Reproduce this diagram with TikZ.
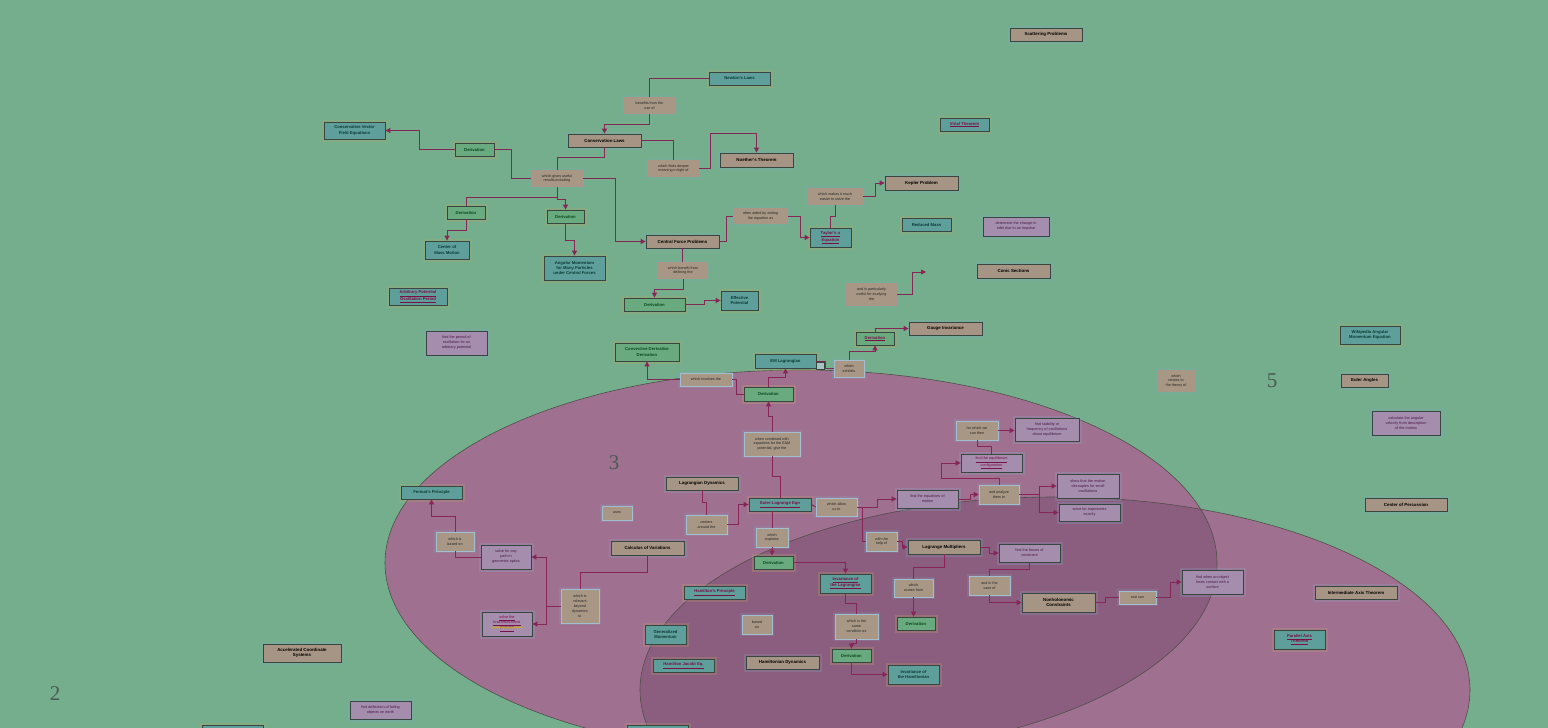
\documentclass[tikz,border=0pt]{standalone}
\usepackage{fontspec}
\setmainfont{Liberation Sans}
\newfontfamily\numfont{Liberation Serif}
\usetikzlibrary{arrows.meta,decorations.pathmorphing}
\definecolor{bgc}{HTML}{74AE8C}
\definecolor{pinkc}{HTML}{A07090}
\definecolor{overc}{HTML}{8B5E7F}
\definecolor{ellc}{HTML}{4E5048}
\definecolor{tanc}{HTML}{A69584}
\definecolor{tealc}{HTML}{5E9E9B}
\definecolor{greenc}{HTML}{6AAA7F}
\definecolor{purpc}{HTML}{A48DAD}
\definecolor{labc}{HTML}{A89784}
\definecolor{labb}{HTML}{A3BFCF}
\definecolor{bordc}{HTML}{37463F}
\definecolor{linec}{HTML}{862656}
\definecolor{linkc}{HTML}{7E0E48}
\definecolor{tealt}{HTML}{0C3C36}
\definecolor{greent}{HTML}{0B4A22}
\definecolor{purpt}{HTML}{4C1C48}
\definecolor{glowb}{HTML}{86A9C6}
\definecolor{glowy}{HTML}{B9A36A}
\definecolor{numc}{HTML}{4B5A52}
\definecolor{smallc}{HTML}{A9C2C4}
\definecolor{squig}{HTML}{C8B020}
\newcommand\lnk[1]{\textcolor{linkc}{\underline{#1}}}
\newcommand\bxn[6]{\node[#1,minimum width=#4pt,minimum height=#5pt] (#2) at (#3) {#6};}
\begin{document}
\begin{tikzpicture}[x=1pt,y=-1pt,
 every node/.style={inner sep=0pt, align=center},
 boxb/.style={rectangle, draw=bordc, line width=0.8pt},
 concept/.style={boxb, fill=tanc, text=black, font=\fontsize{4.4}{5.4}\selectfont\bfseries, preaction={draw=glowb, line width=5pt, draw opacity=0.22}},
 tealbox/.style={boxb, fill=tealc, text=tealt, font=\fontsize{4.2}{5.4}\selectfont\bfseries, preaction={draw=glowy, line width=5pt, draw opacity=0.25}},
 derivbox/.style={boxb, fill=greenc, text=greent, font=\fontsize{4.2}{5.4}\selectfont\bfseries, preaction={draw=glowy, line width=5pt, draw opacity=0.3}},
 taskbox/.style={boxb, fill=purpc, text=purpt, font=\fontsize{3.8}{5}\selectfont, preaction={draw=glowb, line width=5pt, draw opacity=0.25}},
 lab/.style={rectangle, fill=labc, text=black!85, font=\fontsize{3.7}{4.9}\selectfont, preaction={draw=glowb, line width=4pt, draw opacity=0.2}},
 labin/.style={lab, draw=labb, line width=0.6pt},
 numlab/.style={font=\numfont\fontsize{21}{21}\selectfont, text=numc},
 conn/.style={draw=linec, line width=0.9pt},
 arr/.style={conn, -{Triangle[length=5pt,width=5pt]}},
]
\useasboundingbox (0,0) rectangle (1548,728);
\fill[bgc] (0,0) rectangle (1548,728);
% regions
\fill[pinkc] (801,563) ellipse [x radius=416pt, y radius=193pt];
\fill[pinkc] (1055,690) ellipse [x radius=415pt, y radius=193pt];
\begin{scope}
\clip (801,563) ellipse [x radius=416pt, y radius=193pt];
\fill[overc] (1055,690) ellipse [x radius=415pt, y radius=193pt];
\end{scope}
\draw[ellc, line width=0.6pt] (801,563) ellipse [x radius=416pt, y radius=193pt];
\draw[ellc, line width=0.6pt] (1055,690) ellipse [x radius=415pt, y radius=193pt];
\node[numlab] (num2) at (55,694) {2};
\node[numlab] (num3) at (614,463) {3};
\node[numlab] (num5) at (1272,381) {5};
% nodes
\bxn{concept}{nScat}{1046,34.5}{72}{13}{Scattering Problems}
\bxn{tealbox}{nVirial}{964.5,124.5}{49}{13}{\lnk{Virial Theorem}}
\bxn{tealbox}{nNewton}{739.5,78.5}{61}{13}{Newton's Laws}
\bxn{lab}{lBenefits}{649.5,105.5}{51}{17}{benefits from the\\use of}
\bxn{concept}{nCons}{604.5,140.5}{73}{13}{Conservation Laws}
\bxn{lab}{lDeeper}{673.5,168.5}{51}{17}{which finds deeper\\meaning in light of}
\bxn{concept}{nNoether}{756.5,160}{73}{14}{Noether's Theorem}
\bxn{tealbox}{nCvf}{354.5,130.5}{61}{17}{Conservative Vector\\Field Equations}
\bxn{derivbox}{dA}{474.5,149.5}{39}{13}{Derivation}
\bxn{lab}{lGives}{557,178.5}{52}{17}{which gives useful\\results including}
\bxn{derivbox}{dB}{466,212.5}{38}{13}{Derivation}
\bxn{derivbox}{dC}{565.5,216.5}{37}{13}{Derivation}
\bxn{tealbox}{nCom}{447,250}{44}{18}{Center of\\Mass Motion}
\bxn{tealbox}{nAngmom}{574.5,268}{61}{24}{Angular Momentum\\for Many Particles\\under Central Forces}
\bxn{tealbox}{nArbpot}{418,296.5}{58}{17}{\lnk{Arbitrary Potential}\\\lnk{Oscillation Period}}
\bxn{concept}{nCfp}{682.5,241.5}{73}{13}{Central Force Problems}
\bxn{lab}{lAided}{760.5,216}{55}{16}{often aided by writing\\the equation as}
\bxn{tealbox}{nTaylor}{830.5,237.5}{41}{19}{\lnk{Taylor's u}\\\lnk{Equation}}
\bxn{lab}{lEasier}{835,196.5}{56}{17}{which makes it much\\easier to solve the}
\bxn{concept}{nKepler}{921.5,183}{73}{14}{Kepler Problem}
\bxn{tealbox}{nReduced}{926.5,224.5}{49}{13}{Reduced Mass}
\bxn{taskbox}{tImpulse}{1016,226.5}{66}{19}{determine the change in\\orbit due to an impulse}
\bxn{lab}{lBenefitB}{683,270.5}{50}{17}{which benefit from\\defining the}
\bxn{derivbox}{dD}{654.5,304.5}{61}{13}{Derivation}
\bxn{tealbox}{nEffpot}{739.5,300.5}{37}{19}{Effective\\Potential}
\bxn{lab}{lUseful}{871.5,294.5}{51}{23}{and is particularly\\useful for studying\\the}
\coordinate (cEnd) at (926,272);
\bxn{concept}{nConic}{1013.5,271}{73}{14}{Conic Sections}
\bxn{concept}{nGauge}{945.5,328.5}{73}{13}{Gauge Invariance}
\bxn{derivbox}{dE}{875,338.5}{38}{13}{\lnk{Derivation}}
\bxn{taskbox}{tPeriod}{456.5,343}{61}{24}{find the period of\\oscillation for an\\arbitrary potential}
\bxn{derivbox}{dConv}{647,352}{64}{18}{Convective Derivative\\Derivation}
\bxn{tealbox}{nEm}{785.5,361}{61}{14}{EM Lagrangian}
\node[rectangle, draw=bordc, line width=0.5pt, fill=smallc, minimum width=8pt, minimum height=7pt] (sBox) at (820,365.5) {};
\bxn{labin}{lExhibits}{849,368.5}{30}{17}{which\\exhibits}
\bxn{labin}{lInvolves}{706,379.5}{52}{13}{which involves the}
\bxn{derivbox}{dF}{768.5,394}{49}{14}{Derivation}
\bxn{labin}{lCombined}{772,444}{56}{24}{when combined with\\equations for the E\&M\\potential, give the}
\bxn{tealbox}{nWiki}{1370,335}{60}{18}{Wikipedia Angular\\Momentum Equation}
\bxn{lab}{lRelates}{1176,381}{38}{22}{which\\relates to\\the theory of}
\bxn{concept}{nEuler}{1364.5,380.5}{47}{13}{Euler Angles}
\bxn{taskbox}{tAngvel}{1406,423}{68}{24}{calculate the angular\\velocity from description\\of the motion}
\bxn{concept}{nPercussion}{1406,504.5}{82}{13}{Center of Percussion}
\bxn{concept}{nIntaxis}{1356,592.5}{82}{13}{Intermediate Axis Theorem}
\bxn{tealbox}{nParallel}{1299.5,639.5}{51}{19}{\lnk{Parallel Axis}\\\lnk{Theorem}}
\bxn{labin}{lWhichwe}{977,430.5}{42}{19}{for which we\\can then}
\bxn{taskbox}{tStability}{1047,429.5}{64}{23}{find stability or\\frequency of oscillations\\about equilibrium}
\bxn{taskbox}{tEquil}{991.5,463}{61}{18}{\lnk{find the equilibrium}\\\lnk{configuration}}
\bxn{taskbox}{tEom}{927.5,499}{61}{18}{find the equations of\\motion}
\bxn{labin}{lAnalyze}{999,494.5}{40}{19}{and analyze\\them to}
\bxn{taskbox}{tDecouple}{1088,486}{62}{24}{show that the motion\\decouples for small\\oscillations}
\bxn{taskbox}{tTraj}{1089.5,512.5}{61}{17}{solve for trajectories\\exactly}
\bxn{concept}{nLagdyn}{702,483.5}{72}{13}{Lagrangian Dynamics}
\bxn{tealbox}{nFermat}{431.5,492.5}{61}{13}{Fermat's Principle}
\bxn{labin}{lUses}{617,513}{30}{14}{uses}
\bxn{tealbox}{nEl}{780,504.5}{62}{13}{\lnk{Euler-Lagrange Eqn}}
\bxn{labin}{lAllow}{836.5,507}{41}{18}{which allow\\us to}
\bxn{labin}{lCenters}{706.5,524.5}{41}{19}{centers\\around the}
\bxn{labin}{lExplains}{772,537.5}{32}{19}{which\\explains}
\bxn{labin}{lBasedon}{455,541.5}{38}{19}{which is\\based on}
\bxn{taskbox}{tAnypath}{506,557}{50}{24}{solve for any\\path in\\geometric optics}
\bxn{concept}{nCalc}{647.5,548}{73}{14}{Calculus of Variations}
\bxn{labin}{lHelp}{881.5,541.5}{31}{19}{with the\\help of}
\bxn{concept}{nLagmult}{944,547}{72}{14}{Lagrange Multipliers}
\bxn{taskbox}{tForces}{1029.5,553}{61}{18}{find the forces of\\constraint}
\bxn{derivbox}{dG}{773.5,562.5}{39}{13}{Derivation}
\bxn{tealbox}{nInvlag}{845.5,583.5}{51}{19}{\lnk{Invariance of}\\\lnk{the Lagrangian}}
\bxn{labin}{lComes}{913.5,588}{39}{18}{which\\comes from}
\bxn{labin}{lCase}{989.5,585.5}{41}{19}{and in the\\case of}
\bxn{concept}{nNonhol}{1058.5,602.5}{73}{19}{Nonholonomic\\Constraints}
\bxn{labin}{lOnecan}{1137.5,597.5}{37}{13}{one can}
\bxn{taskbox}{tContact}{1212.5,582}{61}{24}{find when an object\\loses contact with a\\surface}
\bxn{tealbox}{nHampath}{714.5,592.5}{61}{13}{\lnk{Hamilton's Principle}}
\bxn{labin}{lRelevant}{580,606}{38}{34}{which is\\relevant\\beyond\\dynamics\\to}
\bxn{taskbox}{tBrach}{507,624}{50}{24}{\lnk{solve the}\\\lnk{brachistochrone}\\\lnk{problem}}
\bxn{derivbox}{dH}{916,623.5}{38}{13}{Derivation}
\bxn{labin}{lBasedB}{757,624.5}{30}{19}{based\\on}
\bxn{tealbox}{nGenmom}{665.5,634.5}{41}{19}{Generalized\\Momentum}
\bxn{labin}{lSame}{856.5,626.5}{43}{25}{which is the\\same\\condition as}
\bxn{derivbox}{dI}{851.5,655.5}{39}{13}{Derivation}
\bxn{tealbox}{nHj}{683.5,665.5}{61}{13}{\lnk{Hamilton Jacobi Eq.}}
\bxn{concept}{nHamdyn}{782.5,662.5}{73}{13}{Hamiltonian Dynamics}
\bxn{tealbox}{nInvham}{913.5,674.5}{51}{19}{Invariance of\\the Hamiltonian}
\bxn{concept}{nAccel}{302,653}{78}{18}{Accelerated Coordinate\\Systems}
\bxn{taskbox}{tDeflect}{380.5,710}{61}{18}{find deflection of falling\\objects on earth}
\node[tealbox, minimum width=61pt, minimum height=15pt] (pbA) at (232.5,732.5) {};
\node[tealbox, minimum width=61pt, minimum height=15pt] (pbB) at (657.5,732.5) {};
\draw[squig, line width=0.5pt, decorate, decoration={zigzag, amplitude=0.7pt, segment length=1.8pt}] ([xshift=-16pt,yshift=-3.5pt]tBrach.center) -- ([xshift=16pt,yshift=-3.5pt]tBrach.center);
% connectors
\draw[conn] (nNewton.west) -| (lBenefits.north);
\draw[arr] (lBenefits.south) -- ++(0,10) -| (nCons.north);
\draw[conn] (nCons.east) -| (lDeeper.north);
\draw[arr] (lDeeper.east) -- ++(11,0) -- ++(0,-35.5) -| (nNoether.north);
\draw[conn] (nCons.south) -- ++(0,10) -| (lGives.north);
\draw[conn] (lGives.west) -- ++(-19,0) |- (dA.east);
\draw[arr] (dA.west) -- ++(-35,0) |- (nCvf.east);
\draw[arr] (lGives.east) -- ++(32,0) |- (nCfp.west);
\draw[conn] (lGives.south) -- ++(0,10) -| (dB.north);
\draw[arr] (lGives.south) -- ++(0,12) -| (dC.north);
\draw[arr] (dB.south) -- ++(0,11) -| (nCom.north);
\draw[arr] (dC.south) -- ++(0,17) -| (nAngmom.north);
\draw[conn] (nCfp.east) -- ++(7,0) |- (lAided.west);
\draw[arr] (lAided.east) -- ++(12,0) |- (nTaylor.west);
\draw[conn] (nTaylor.north) -- ++(0,-11) -| (lEasier.south);
\draw[arr] (lEasier.east) -- ++(12,0) |- (nKepler.west);
\draw[conn] (nCfp.south) -- (nCfp.south |- lBenefitB.north);
\draw[arr] (lBenefitB.south) -- ++(0,10) -| (dD.north);
\draw[arr] (dD.east) -- ++(19,0) |- (nEffpot.west);
\draw[arr] (lUseful.east) -- ++(15,0) |- (cEnd);
\draw[conn] (nEm.east) -- ++(9,0) |- (lExhibits.west);
\draw[arr] (lExhibits.north) -- ++(0,-8) -| (dE.south);
\draw[arr] (dE.north) |- (nGauge.west);
\draw[conn] (dF.west) -- ++(-7,0) |- (lInvolves.east);
\draw[arr] (lInvolves.west) -| (dConv.south);
\draw[arr] (dF.north) -- ++(0,-9) -| (nEm.south);
\draw[arr] (lCombined.north) -- ++(0,-15) -| (dF.south);
\draw[conn] (nEl.north) -- ++(0,-21) -| (lCombined.south);
\draw[conn] (nEl.east) -- (lAllow.west);
\draw[arr] (lAllow.east) -- ++(20,0) |- (tEom.west);
\draw[conn] (lAllow.east) -- ++(5,0) |- (lHelp.west);
\draw[arr] (lHelp.east) -- ++(5,0) |- (nLagmult.west);
\draw[arr] (tEom.east) -- ++(12,0) |- (lAnalyze.west);
\draw[arr] (lAnalyze.north) -- ++(0,-6) -- ++(-58,0) |- (tEquil.west);
\draw[arr] (lAnalyze.east) -- ++(20,0) |- (tDecouple.west);
\draw[arr] (lAnalyze.east) -- ++(20,0) |- (tTraj.west);
\draw[conn] (tEquil.north) -- ++(0,-7) -| (lWhichwe.south);
\draw[arr] (lWhichwe.east) -- (lWhichwe.east -| tStability.west);
\draw[arr] (nLagmult.east) -- ++(9,0) |- (tForces.west);
\draw[conn] (tForces.south) -- ++(0,7) -| (lCase.north);
\draw[arr] (lCase.south) |- (nNonhol.west);
\draw[conn] (nNonhol.east) -- ++(10,0) |- (lOnecan.west);
\draw[arr] (lOnecan.east) -- ++(14,0) |- (tContact.west);
\draw[conn] (nLagmult.south) -- ++(0,13) -| (lComes.north);
\draw[arr] (lComes.south) -- (lComes.south |- dH.north);
\draw[conn] (lExplains.north |- nEl.south) -- (lExplains.north);
\draw[arr] (lExplains.south) -- (lExplains.south |- dG.north);
\draw[arr] (dG.east) -| (nInvlag.north);
\draw[conn] (nInvlag.south) -- ++(0,10) -| (lSame.north);
\draw[arr] (lSame.south) -- ++(0,4) -| (dI.north);
\draw[arr] (dI.south) |- (nInvham.west);
\draw[conn] (nLagdyn.south) -- ++(0,12) -| (lCenters.north);
\draw[arr] (lCenters.east) -- ++(11,0) |- (nEl.west);
\draw[conn] (tAnypath.west) -| (lBasedon.south);
\draw[arr] (lBasedon.north) -- ++(0,-15) -| (nFermat.south);
\draw[conn] (nCalc.south) -- ++(0,17) -| (lRelevant.north);
\draw[arr] (lRelevant.west) -- ++(-14,0) |- (tAnypath.east);
\draw[arr] (lRelevant.west) -- ++(-14,0) |- (tBrach.east);
\end{tikzpicture}
\end{document}
